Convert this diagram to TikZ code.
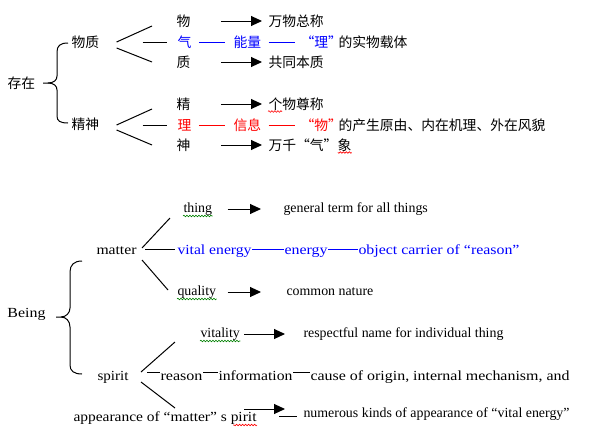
\documentclass[tikz,border=0pt]{standalone}
\usepackage{fontspec}
\usepackage{graphicx}
\setmainfont{Liberation Serif}
\newfontfamily\cjk{Noto Sans CJK SC}
\usetikzlibrary{arrows.meta}
\usetikzlibrary{decorations.pathmorphing}
\definecolor{mgreen}{RGB}{0,128,0}
\newcommand{\fitto}[2]{\resizebox{#1}{\height}{#2}}
\tikzset{zh/.style = {font=\cjk\fontsize{13.8}{14}\selectfont, anchor=west, inner sep=0, text height=12pt, text depth=2pt}}
\tikzset{en/.style = {font=\fontsize{13.9}{15}\selectfont, anchor=west, inner sep=0, text height=10pt, text depth=3pt}}
\tikzset{arr/.style = {-{Triangle[length=11pt,width=10pt]}}}
\tikzset{wavy/.style = {decorate, decoration={snake, amplitude=0.8pt, segment length=3pt}, line width=0.6pt}}
\tikzset{every picture/.style={
    every path/.style={line width=1pt},
}}

\begin{document}
\begin{tikzpicture}[x=1pt, y=-1pt]
    \useasboundingbox (0,0) rectangle (589,431);

    % 存在
    \node[zh] (cz) at (7,83) {存在};
    \node[zh] (wz) at (71,42) {物质};
    \node[zh] (js) at (71,124) {精神};
    \draw (68,43) .. controls (60,43) and (57,46) .. (57,52) -- (57,76) .. controls (57,80) and (54,83) .. (48,83) -- (43,83);
    \draw (48,83) .. controls (54,83) and (57,86) .. (57,90) -- (57,116) .. controls (57,121) and (60,123) .. (68,123);

    \node[zh] (wu) at (176,21) {物};
    \node[zh, blue] (qi) at (177,42) {气};
    \node[zh] (zhi) at (176,62) {质};
    \node[zh] (wud) at (268,21) {万物总称};
    \node[zh, blue] (nl) at (233,42) {能量};
    \node[zh, blue] (lq) at (300,42) {“理”};
    \node[zh] (lqd) at (338,42) {的实物载体};
    \node[zh] (zhid) at (268,62) {共同本质};
    \coordinate (wzup) at (152,26);
    \coordinate (wzdn) at (152,62);
    \draw ([xshift=17pt]wz.east) -- (wzup);
    \draw ([shift={(17pt,-6pt)}]wz.east) -- (wzdn);
    \draw[shorten <=43pt, shorten >=10pt] (wz.east) -- (qi.west);
    \draw[blue, shorten <=7pt, shorten >=8pt] (qi.east) -- (nl.west);
    \draw[blue, shorten <=7pt, shorten >=5pt] (nl.east) -- (lq.west);
    \draw[arr, shorten <=30pt, shorten >=6pt] (wu.east) -- (wud.west);
    \draw[arr, shorten <=30pt, shorten >=6pt] (zhi.east) -- (zhid.west);

    \node[zh] (jing) at (176,104) {精};
    \node[zh, red] (li) at (177,125) {理};
    \node[zh] (shen) at (176,145) {神};
    \node[zh] (jingd) at (268,104) {个物尊称};
    \node[zh, red] (xx) at (233,125) {信息};
    \node[zh, red] (wq) at (300,125) {“物”};
    \node[zh] (wqd) at (338,125) {的产生原由、内在机理、外在风貌};
    \node[zh] (shend) at (268,145) {万千“气”象};
    \coordinate (jsup) at (152,109);
    \coordinate (jsdn) at (152,145);
    \draw ([shift={(17pt,-1pt)}]js.east) -- (jsup);
    \draw ([shift={(17pt,-6pt)}]js.east) -- (jsdn);
    \draw[shorten <=43pt, shorten >=10pt] ([yshift=-1pt]js.east) -- (li.west);
    \draw[red, shorten <=7pt, shorten >=8pt] (li.east) -- (xx.west);
    \draw[red, shorten <=7pt, shorten >=5pt] (xx.east) -- (wq.west);
    \draw[arr, shorten <=30pt, shorten >=6pt] (jing.east) -- (jingd.west);
    \draw[arr, shorten <=30pt, shorten >=6pt] (shen.east) -- (shend.west);
    \draw[wavy, red] (jingd.south west) -- ++(14,0);
    \draw[wavy, red] (shend.south east) -- ++(-14,0);

    % Being
    \node[en] (being) at (7,314) {\fitto{38pt}{Being}};
    \node[en] (matter) at (96,251) {\fitto{40pt}{matter}};
    \node[en] (spirit) at (97,377) {\fitto{31pt}{spirit}};
    \draw (82,261) .. controls (74,261) and (70,265) .. (70,272) -- (70,308) .. controls (70,313) and (66,317) .. (61,317) -- (56,317);
    \draw (61,317) .. controls (66,317) and (70,321) .. (70,327) -- (70,365) .. controls (70,371) and (74,374) .. (82,374);

    \node[en] (thing) at (183,209) {thing};
    \node[en, blue] (ve) at (177,251) {\fitto{74pt}{vital energy}};
    \node[en] (quality) at (177,292) {quality};
    \node[en] (thingd) at (283,209) {general term for all things};
    \node[en, blue] (energy) at (284,251) {\fitto{43pt}{energy}};
    \node[en, blue] (oc) at (358,251) {\fitto{161pt}{object carrier of “reason”}};
    \node[en] (qualityd) at (286,292) {common nature};
    \coordinate (mtup) at (170,218);
    \coordinate (mtdn) at (168,290);
    \draw ([shift={(5pt,3pt)}]matter.east) -- (mtup);
    \draw ([shift={(5pt,-9pt)}]matter.east) -- (mtdn);
    \draw[shorten <=8pt, shorten >=2pt] ([yshift=2pt]matter.east) -- ([yshift=2pt]ve.west);
    \draw[blue] ([yshift=2pt]ve.east) -- ([yshift=2pt]energy.west);
    \draw[blue] ([yshift=2pt]energy.east) -- ([yshift=2pt]oc.west);
    \draw[arr, shorten <=15pt, shorten >=22pt] (thing.east) -- (thingd.west);
    \draw[arr, shorten <=11pt, shorten >=25pt] (quality.east) -- (qualityd.west);
    \draw[wavy, mgreen] (thing.south west) -- (thing.south east);
    \draw[wavy, mgreen] (quality.south west) -- (quality.south east);

    \node[en] (vitality) at (200,334) {vitality};
    \node[en] (vitalityd) at (303,334) {respectful name for individual thing};
    \node[en] (reason) at (160,377) {\fitto{42pt}{reason}};
    \node[en] (info) at (218,377) {\fitto{74pt}{information}};
    \node[en] (cause) at (310,377) {\fitto{259pt}{cause of origin, internal mechanism, and}};
    \node[en] (appear) at (73,418) {\fitto{183pt}{appearance of “matter” s pirit}};
    \node[en] (numer) at (303,414) {numerous kinds of appearance of “vital energy”};
    \coordinate (spup) at (175,342);
    \coordinate (spdn) at (175,408);
    \coordinate (apS) at (244,409);
    \coordinate (apE) at (285,409);
    \coordinate (dS) at (279,416);
    \draw ([shift={(12pt,5pt)}]spirit.east) -- (spup);
    \draw ([shift={(12pt,-5pt)}]spirit.east) -- (spdn);
    \draw[shorten <=18pt] ([yshift=5pt]spirit.east) -- ([yshift=5pt]reason.west);
    \draw ([yshift=5pt]reason.east) -- ([yshift=5pt]info.west);
    \draw ([yshift=5pt]info.east) -- ([yshift=5pt]cause.west);
    \draw[arr, shorten <=4pt, shorten >=18pt] (vitality.east) -- (vitalityd.west);
    \draw[arr] (apS) -- (apE);
    \draw[shorten >=6pt] (dS) -- ([yshift=-2pt]numer.west);
    \draw[wavy, mgreen] (vitality.south west) -- (vitality.south east);
    \draw[wavy, red] (appear.south east) -- ++(-24,0);
\end{tikzpicture}
\end{document}
